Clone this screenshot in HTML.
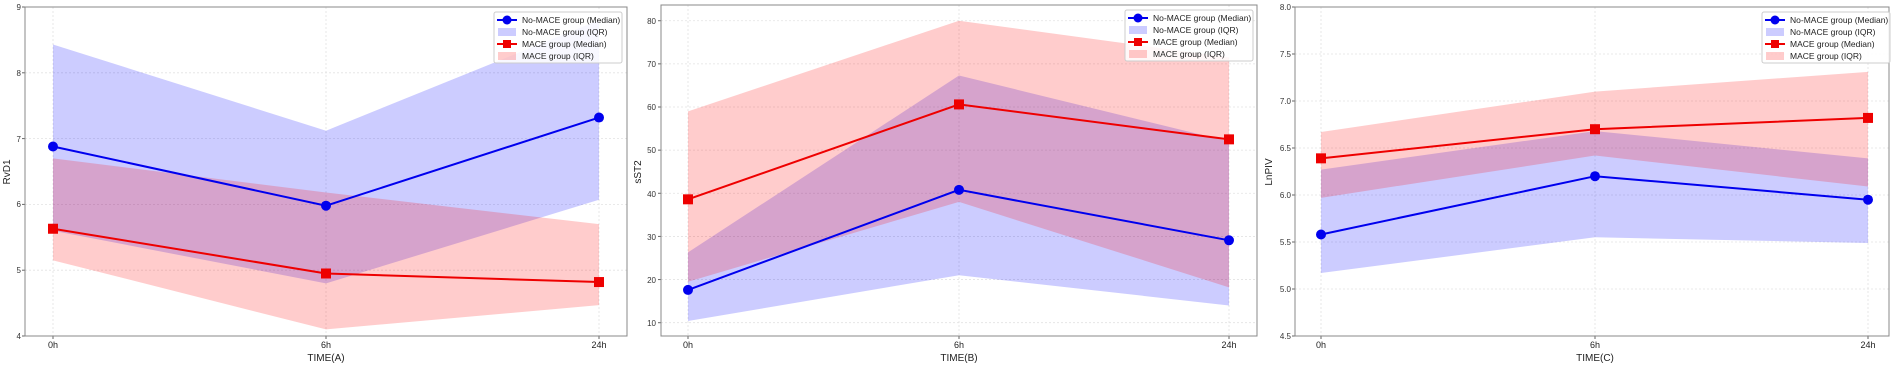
<!DOCTYPE html>
<html><head><meta charset="utf-8"><style>
html,body{margin:0;padding:0;background:#fff;}
svg{display:block;font-family:"Liberation Sans",sans-serif;}
</style></head><body>
<svg id="s" width="1893" height="366" viewBox="0 0 1893 366" xmlns="http://www.w3.org/2000/svg">
<g id="g"></g>
<g font-size="8" fill="#333" text-anchor="end">
<text x="21" y="339">4</text><text x="21" y="273">5</text><text x="21" y="207">6</text><text x="21" y="142">7</text><text x="21" y="76">8</text><text x="21" y="10">9</text>
</g>
<g font-size="9" fill="#222" text-anchor="middle">
<text x="53" y="348">0h</text><text x="326" y="348">6h</text><text x="599" y="348">24h</text>
<text x="326" y="361" font-size="10">TIME(A)</text>
<text transform="translate(10,172) rotate(-90)" font-size="10">RvD1</text>
</g>
<g font-size="8" fill="#333" text-anchor="end">
<text x="656" y="326">10</text><text x="656" y="283">20</text><text x="656" y="240">30</text><text x="656" y="197">40</text><text x="656" y="153">50</text><text x="656" y="110">60</text><text x="656" y="67">70</text><text x="656" y="24">80</text>
</g>
<g font-size="9" fill="#222" text-anchor="middle">
<text x="688" y="348">0h</text><text x="959" y="348">6h</text><text x="1229" y="348">24h</text>
<text x="959" y="361" font-size="10">TIME(B)</text>
<text transform="translate(641,172) rotate(-90)" font-size="10">sST2</text>
</g>
<g font-size="8" fill="#333" text-anchor="end">
<text x="1291" y="339">4.5</text><text x="1291" y="292">5.0</text><text x="1291" y="245">5.5</text><text x="1291" y="198">6.0</text><text x="1291" y="151">6.5</text><text x="1291" y="104">7.0</text><text x="1291" y="57">7.5</text><text x="1291" y="10">8.0</text>
</g>
<g font-size="9" fill="#222" text-anchor="middle">
<text x="1321" y="348">0h</text><text x="1595" y="348">6h</text><text x="1868" y="348">24h</text>
<text x="1595" y="361" font-size="10">TIME(C)</text>
<text transform="translate(1272,172) rotate(-90)" font-size="10">LnPIV</text>
</g>
<g id="legA" transform="translate(494,12)"></g>
<g id="legB" transform="translate(1125,10)"></g>
<g id="legC" transform="translate(1762,12)"></g>
<g font-size="8.5" fill="#222">
<text x="522" y="23">No-MACE group (Median)</text><text x="522" y="35">No-MACE group (IQR)</text><text x="522" y="47">MACE group (Median)</text><text x="522" y="59">MACE group (IQR)</text>
<text x="1153" y="21">No-MACE group (Median)</text><text x="1153" y="33">No-MACE group (IQR)</text><text x="1153" y="45">MACE group (Median)</text><text x="1153" y="57">MACE group (IQR)</text>
<text x="1790" y="23">No-MACE group (Median)</text><text x="1790" y="35">No-MACE group (IQR)</text><text x="1790" y="47">MACE group (Median)</text><text x="1790" y="59">MACE group (IQR)</text>
</g>
</svg>
<script>
var NS="http://www.w3.org/2000/svg",g=document.getElementById("g");
function el(t,a,p){var e=document.createElementNS(NS,t);for(var k in a)e.setAttribute(k,a[k]);(p||g).appendChild(e);return e;}
var panels=[
{L:25,R:627,T:7,B:336,xs:[53,326,599],y:function(v){return 336-(v-4)*65.8},ticks:[4,5,6,7,8,9],
 bm:[6.88,5.98,7.32],bl:[5.6,4.8,6.07],bu:[8.43,7.12,8.8],rm:[5.63,4.95,4.82],rl:[5.15,4.1,4.47],ru:[6.7,6.18,5.7]},
{L:661,R:1257,T:5,B:336,xs:[688,959,1229],y:function(v){return 322.7-(v-10)*4.314},ticks:[10,20,30,40,50,60,70,80],
 bm:[17.6,40.8,29.1],bl:[10.4,21,14],bu:[26.3,67.3,52],rm:[38.6,60.6,52.5],rl:[19.5,38,18.2],ru:[59,80,71.5]},
{L:1295,R:1889,T:7,B:336,xs:[1321,1595,1868],y:function(v){return 336-(v-4.5)*94},ticks:[4.5,5,5.5,6,6.5,7,7.5,8],
 bm:[5.58,6.2,5.95],bl:[5.17,5.55,5.49],bu:[6.27,6.68,6.39],rm:[6.39,6.7,6.82],rl:[5.97,6.42,6.09],ru:[6.67,7.1,7.31]}];
panels.forEach(function(p){
 p.ticks.forEach(function(t){var yy=p.y(t);el("line",{x1:p.L,x2:p.R,y1:yy,y2:yy,stroke:"#e2e2e2","stroke-width":0.8,"stroke-dasharray":"2,2"});el("line",{x1:p.L-3,x2:p.L,y1:yy,y2:yy,stroke:"#666"});});
 p.xs.forEach(function(x){el("line",{x1:x,x2:x,y1:p.T,y2:p.B,stroke:"#e2e2e2","stroke-width":0.8,"stroke-dasharray":"2,2"});el("line",{x1:x,x2:x,y1:p.B,y2:p.B+3,stroke:"#666"});});
 function band(lo,hi,c){var pts=[];for(var i=0;i<3;i++)pts.push(p.xs[i]+","+p.y(hi[i]));for(var i=2;i>=0;i--)pts.push(p.xs[i]+","+p.y(lo[i]));el("polygon",{points:pts.join(" "),fill:c,"fill-opacity":0.2});}
 band(p.bl,p.bu,"#0000ff");band(p.rl,p.ru,"#ff0000");
 function line(m,c,sq){var pts=m.map(function(v,i){return p.xs[i]+","+p.y(v)});el("polyline",{points:pts.join(" "),fill:"none",stroke:c,"stroke-width":2});
  m.forEach(function(v,i){if(sq)el("rect",{x:p.xs[i]-5,y:p.y(v)-5,width:10,height:10,fill:c});else el("circle",{cx:p.xs[i],cy:p.y(v),r:5,fill:c});});}
 line(p.bm,"#0000ee",false);line(p.rm,"#ee0000",true);
 el("rect",{x:p.L,y:p.T,width:p.R-p.L,height:p.B-p.T,fill:"none",stroke:"#888","stroke-width":1});
});
["legA","legB","legC"].forEach(function(id){var L=document.getElementById(id);
 el("rect",{x:0,y:0,width:128,height:51,fill:"#fff","fill-opacity":0.85,stroke:"#ccc",rx:2},L);
 el("line",{x1:3,x2:23,y1:8,y2:8,stroke:"#0000ee","stroke-width":2},L);el("circle",{cx:13,cy:8,r:4.5,fill:"#0000ee"},L);
 el("rect",{x:4,y:16,width:18,height:8,fill:"#0000ff","fill-opacity":0.2},L);
 el("line",{x1:3,x2:23,y1:32,y2:32,stroke:"#ee0000","stroke-width":2},L);el("rect",{x:9,y:28,width:8,height:8,fill:"#ee0000"},L);
 el("rect",{x:4,y:40,width:18,height:8,fill:"#ff0000","fill-opacity":0.2},L);});
</script>
</body></html>
